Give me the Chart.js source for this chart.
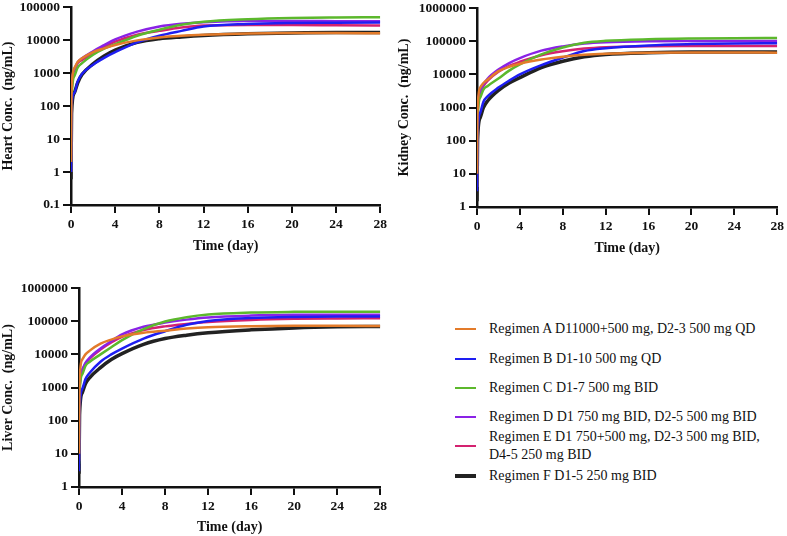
<!DOCTYPE html>
<html>
<head>
<meta charset="utf-8">
<script src="https://cdn.jsdelivr.net/npm/chart.js@4.4.1/dist/chart.umd.min.js"></script>
<style>
body { margin: 0; width: 787px; height: 536px; position: relative; overflow: hidden; background: #fff;
       font-family: 'Liberation Serif', 'Times New Roman', serif; }
canvas { position: absolute; }
.row { position: absolute; left: 455px; font-size: 14px; line-height: 18px; color: #111; white-space: nowrap; }
.row .swatch { position: absolute; left: 0; width: 21px; }
.row .txt { position: absolute; left: 34px; }
</style>
</head>
<body>
<canvas id="heart" width="390" height="259" style="left:0px;top:-4px"></canvas>
<canvas id="kidney" width="391" height="260" style="left:396px;top:-3px"></canvas>
<canvas id="liver" width="390" height="259" style="left:0px;top:277px"></canvas>
<div id="legend"></div>
<script>
// time points (day)
var times = [0, 0.05, 0.3, 0.6, 1, 2, 3, 4, 6, 8, 10, 12, 16, 20, 24, 28];
var timeTicks = [0, 4, 8, 12, 16, 20, 24, 28];

var regimens = [
    "Regimen A D11000+500 mg, D2-3 500 mg QD",
    "Regimen B D1-10 500 mg QD",
    "Regimen C D1-7 500 mg BID",
    "Regimen D D1 750 mg BID, D2-5 500 mg BID",
    "Regimen E D1 750+500 mg, D2-3 500 mg BID,\nD4-5 250 mg BID",
    "Regimen F D1-5 250 mg BID"
];
var colors = ["#E37B2A", "#1E1EF2", "#5CB82C", "#8A22E6", "#D42270", "#222222"];

// heart conc (ng/mL), one row per regimen A..F
var heartConc = [
    [2, 300, 1400, 2150, 2800, 4300, 5600, 7100, 9800, 12000, 13500, 14500, 15800, 16300, 16300, 16000],
    [1, 100, 250, 550, 950, 1800, 2900, 4300, 8500, 13500, 19000, 26000, 31000, 33000, 33500, 34000],
    [1, 150, 800, 1450, 2000, 3600, 5500, 7500, 13500, 20500, 29000, 36000, 43000, 47000, 48500, 49000],
    [1, 250, 1300, 2100, 2800, 4600, 7000, 10500, 18000, 26000, 31500, 35000, 38000, 38000, 37500, 37000],
    [1, 250, 1200, 2000, 2500, 4100, 6200, 9000, 14500, 19000, 24000, 27500, 28500, 28500, 28000, 27500],
    [0.6, 60, 250, 500, 900, 1900, 3300, 5000, 8500, 11000, 12500, 13800, 15500, 16500, 17000, 17000]
];
var kidneyConc = [
    [10, 800, 4000, 5500, 7000, 12500, 17000, 21000, 28000, 34000, 39000, 42000, 45000, 46000, 46000, 45000],
    [3, 150, 700, 1500, 2200, 4000, 6500, 10000, 19000, 32000, 51000, 62000, 75000, 82000, 86000, 87000],
    [4, 400, 2000, 3500, 4500, 7500, 13000, 20000, 40000, 65000, 90000, 103000, 115000, 121000, 124000, 125000],
    [4, 600, 3000, 5000, 7500, 14000, 22000, 31000, 52000, 70000, 85000, 93000, 100000, 102000, 102000, 101000],
    [4, 600, 2800, 4500, 6500, 12000, 18000, 24000, 38000, 50000, 60000, 66000, 71000, 72000, 72000, 72000],
    [1.5, 100, 500, 1000, 1600, 3300, 5500, 8000, 16000, 25000, 34000, 40000, 45000, 47000, 47000, 47000]
];
var liverConc = [
    [10, 1500, 7000, 10000, 13000, 21000, 28000, 35000, 45000, 52000, 60000, 66000, 71000, 73000, 73000, 72000],
    [3, 200, 900, 1800, 2800, 6000, 10000, 15000, 30000, 50000, 78000, 102000, 125000, 135000, 138000, 138000],
    [5, 600, 2500, 4500, 6000, 10000, 16500, 27000, 58000, 98000, 133000, 160000, 183000, 192000, 195000, 195000],
    [6, 900, 3500, 5500, 8000, 15000, 25000, 40000, 68000, 91000, 112000, 130000, 148000, 156000, 158000, 158000],
    [6, 900, 3300, 5200, 7500, 14000, 23000, 34000, 54000, 70000, 83000, 95000, 110000, 119000, 122000, 123000],
    [2.5, 150, 700, 1300, 2000, 4000, 7000, 10500, 20000, 30000, 38000, 45000, 55000, 63000, 68000, 70000]
];

var heartTicks = [0.1, 1, 10, 100, 1000, 10000, 100000];
var kidneyTicks = [1, 10, 100, 1000, 10000, 100000, 1000000];
var liverTicks = [1, 10, 100, 1000, 10000, 100000, 1000000];

var serif = "'Liberation Serif', 'Times New Roman', serif";
Chart.defaults.font.family = serif;

function makeChart(id, conc, yTicks, yTitle, yWidth, xHeight) {
    var datasets = [];
    for (var i = 0; i < conc.length; i++) {
        var pts = [];
        for (var j = 0; j < times.length; j++) {
            pts.push({ x: times[j], y: conc[i][j] });
        }
        datasets.push({
            label: regimens[i],
            data: pts,
            borderColor: colors[i],
            borderWidth: i == 5 ? 3.5 : 2.5,
            pointRadius: 0,
            fill: false,
            cubicInterpolationMode: 'monotone'
        });
    }
    return new Chart(document.getElementById(id), {
        type: 'line',
        data: { datasets: datasets },
        options: {
            responsive: false,
            animation: false,
            devicePixelRatio: 1,
            plugins: { legend: { display: false }, tooltip: { enabled: false } },
            scales: {
                x: {
                    type: 'linear',
                    min: 0,
                    max: 28,
                    afterBuildTicks: function (s) { s.ticks = timeTicks.map(function (v) { return { value: v }; }); },
                    afterFit: function (s) { s.height = xHeight; },
                    grid: { drawOnChartArea: false, drawTicks: true, tickLength: 8, color: '#111', lineWidth: 2 },
                    border: { color: '#111', width: 2.5 },
                    ticks: { color: '#111', padding: 3, maxRotation: 0, font: { family: serif, size: 13.5, weight: 'bold' } },
                    title: { display: true, text: 'Time (day)', color: '#111', padding: 0, font: { family: serif, size: 14, weight: 'bold' } }
                },
                y: {
                    type: 'logarithmic',
                    min: yTicks[0],
                    max: yTicks[yTicks.length - 1],
                    afterBuildTicks: function (s) { s.ticks = yTicks.map(function (v) { return { value: v }; }); },
                    afterFit: function (s) { s.width = yWidth; },
                    grid: { drawOnChartArea: false, drawTicks: true, tickLength: 8, color: '#111', lineWidth: 2 },
                    border: { color: '#111', width: 2.5 },
                    ticks: {
                        color: '#111', padding: 3,
                        font: { family: serif, size: 13.5, weight: 'bold' },
                        callback: function (v) { return String(v); }
                    },
                    title: { display: true, text: yTitle, color: '#111', padding: 0, font: { family: serif, size: 14, weight: 'bold' } }
                }
            }
        }
    });
}

var heartChart = makeChart('heart', heartConc, heartTicks, 'Heart Conc.  (ng/mL)', 71, 50);
var kidneyChart = makeChart('kidney', kidneyConc, kidneyTicks, 'Kidney Conc.  (ng/mL)', 81, 50);
var liverChart = makeChart('liver', liverConc, liverTicks, 'Liver Conc.  (ng/mL)', 79, 49);

// legend, rows centred on these y values
var legendY = [329, 359, 388, 417, 446, 476];
var legend = document.getElementById('legend');
for (var k = 0; k < regimens.length; k++) {
    var lines = regimens[k].split("\n");
    var row = document.createElement('div');
    row.className = 'row';
    var h = lines.length * 18;
    row.style.top = (legendY[k] - h / 2) + 'px';
    row.style.height = h + 'px';
    var sw = document.createElement('div');
    sw.className = 'swatch';
    var th = k == 5 ? 3.5 : 2.5;
    sw.style.height = th + 'px';
    sw.style.top = (h / 2 - th / 2) + 'px';
    sw.style.background = colors[k];
    var tx = document.createElement('div');
    tx.className = 'txt';
    tx.innerHTML = lines.join('<br>');
    row.appendChild(sw);
    row.appendChild(tx);
    legend.appendChild(row);
}
</script>
</body>
</html>
